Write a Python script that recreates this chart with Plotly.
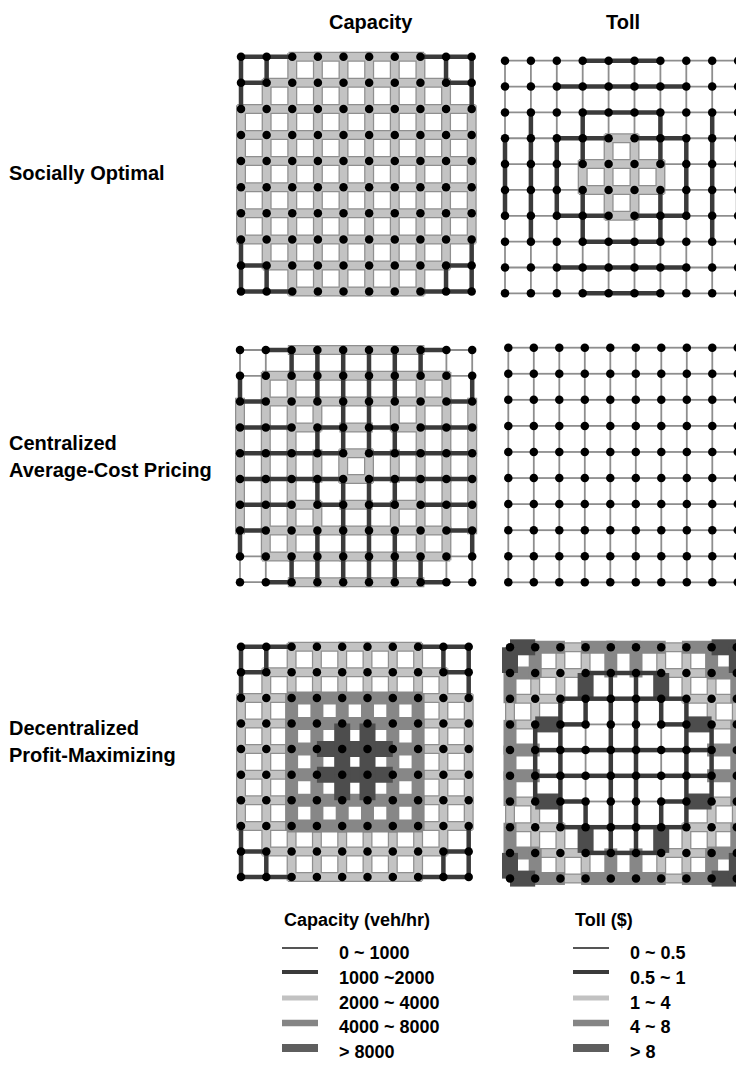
import plotly.graph_objects as go

W, H = 736, 1065

COLUMN_TITLES = ["Capacity", "Toll"]
ROW_TITLES = [["Socially Optimal"], ["Centralized", "Average-Cost Pricing"],
              ["Decentralized", "Profit-Maximizing"]]

CAP_LEGEND_TITLE = "Capacity (veh/hr)"
CAP_LEGEND_LABELS = ["0 ~ 1000", "1000 ~2000", "2000 ~ 4000", "4000 ~ 8000", "> 8000"]
TOLL_LEGEND_TITLE = "Toll ($)"
TOLL_LEGEND_LABELS = ["0 ~ 0.5", "0.5 ~ 1", "1 ~ 4", "4 ~ 8", "> 8"]

# Link classes (index into legend categories).
# *_H[row][k]: horizontal link between node k and k+1 on that row
# *_V[col][k]: vertical link between node k and k+1 on that column
SO_CAP_H = [
    [1, 1, 2, 2, 2, 2, 2, 1, 1],
    [1, 2, 2, 2, 2, 2, 2, 2, 1],
    [2, 2, 2, 2, 2, 2, 2, 2, 2],
    [2, 2, 2, 2, 2, 2, 2, 2, 2],
    [2, 2, 2, 2, 2, 2, 2, 2, 2],
    [2, 2, 2, 2, 2, 2, 2, 2, 2],
    [2, 2, 2, 2, 2, 2, 2, 2, 2],
    [2, 2, 2, 2, 2, 2, 2, 2, 2],
    [1, 2, 2, 2, 2, 2, 2, 2, 1],
    [1, 1, 2, 2, 2, 2, 2, 1, 1],
]
SO_CAP_V = [
    [1, 1, 2, 2, 2, 2, 2, 1, 1],
    [1, 2, 2, 2, 2, 2, 2, 2, 1],
    [2, 2, 2, 2, 2, 2, 2, 2, 2],
    [2, 2, 2, 2, 2, 2, 2, 2, 2],
    [2, 2, 2, 2, 2, 2, 2, 2, 2],
    [2, 2, 2, 2, 2, 2, 2, 2, 2],
    [2, 2, 2, 2, 2, 2, 2, 2, 2],
    [2, 2, 2, 2, 2, 2, 2, 2, 2],
    [1, 2, 2, 2, 2, 2, 2, 2, 1],
    [1, 1, 2, 2, 2, 2, 2, 1, 1],
]
SO_TOLL_H = [
    [0, 0, 0, 1, 1, 1, 0, 0, 0],
    [0, 0, 1, 1, 1, 1, 1, 0, 0],
    [0, 0, 0, 1, 1, 1, 0, 0, 0],
    [0, 0, 1, 1, 2, 1, 1, 0, 0],
    [0, 0, 0, 2, 2, 2, 0, 0, 0],
    [0, 0, 0, 2, 2, 2, 0, 0, 0],
    [0, 0, 1, 1, 2, 1, 1, 0, 0],
    [0, 0, 0, 1, 1, 1, 0, 0, 0],
    [0, 0, 1, 1, 1, 1, 1, 0, 0],
    [0, 0, 0, 1, 1, 1, 0, 0, 0],
]
SO_TOLL_V = [
    [0, 0, 0, 1, 1, 1, 0, 0, 0],
    [0, 0, 1, 1, 1, 1, 1, 0, 0],
    [0, 0, 0, 1, 1, 1, 0, 0, 0],
    [0, 0, 1, 1, 2, 1, 1, 0, 0],
    [0, 0, 0, 2, 2, 2, 0, 0, 0],
    [0, 0, 0, 2, 2, 2, 0, 0, 0],
    [0, 0, 1, 1, 2, 1, 1, 0, 0],
    [0, 0, 0, 1, 1, 1, 0, 0, 0],
    [0, 0, 1, 1, 1, 1, 1, 0, 0],
    [0, 0, 0, 1, 1, 1, 0, 0, 0],
]
CACP_CAP_H = [
    [0, 1, 2, 2, 2, 2, 2, 1, 0],
    [0, 2, 2, 2, 2, 2, 2, 2, 0],
    [1, 2, 2, 2, 2, 2, 2, 2, 1],
    [1, 1, 2, 1, 2, 1, 2, 1, 1],
    [1, 1, 1, 1, 2, 1, 1, 1, 1],
    [1, 1, 1, 1, 2, 1, 1, 1, 1],
    [1, 1, 2, 1, 2, 1, 2, 1, 1],
    [1, 2, 2, 2, 2, 2, 2, 2, 1],
    [0, 2, 2, 2, 2, 2, 2, 2, 0],
    [0, 1, 2, 2, 2, 2, 2, 1, 0],
]
CACP_CAP_V = [
    [0, 1, 2, 2, 2, 2, 2, 1, 0],
    [0, 2, 2, 2, 2, 2, 2, 2, 0],
    [1, 2, 2, 2, 2, 2, 2, 2, 1],
    [1, 1, 2, 1, 2, 1, 2, 1, 1],
    [1, 1, 1, 1, 2, 1, 1, 1, 1],
    [1, 1, 1, 1, 2, 1, 1, 1, 1],
    [1, 1, 2, 1, 2, 1, 2, 1, 1],
    [1, 2, 2, 2, 2, 2, 2, 2, 1],
    [0, 2, 2, 2, 2, 2, 2, 2, 0],
    [0, 1, 2, 2, 2, 2, 2, 1, 0],
]
CACP_TOLL_H = [[0, 0, 0, 0, 0, 0, 0, 0, 0] for _ in range(10)]
CACP_TOLL_V = [[0, 0, 0, 0, 0, 0, 0, 0, 0] for _ in range(10)]
DPM_CAP_H = [
    [1, 1, 2, 2, 2, 2, 2, 1, 1],
    [1, 2, 2, 2, 2, 2, 2, 2, 1],
    [2, 2, 3, 3, 3, 3, 3, 2, 2],
    [2, 2, 3, 3, 3, 3, 3, 2, 2],
    [2, 2, 3, 4, 4, 4, 3, 2, 2],
    [2, 2, 3, 4, 4, 4, 3, 2, 2],
    [2, 2, 3, 3, 3, 3, 3, 2, 2],
    [2, 2, 3, 3, 3, 3, 3, 2, 2],
    [1, 2, 2, 2, 2, 2, 2, 2, 1],
    [1, 1, 2, 2, 2, 2, 2, 1, 1],
]
DPM_CAP_V = [
    [1, 1, 2, 2, 2, 2, 2, 1, 1],
    [1, 2, 2, 2, 2, 2, 2, 2, 1],
    [2, 2, 3, 3, 3, 3, 3, 2, 2],
    [2, 2, 3, 3, 3, 3, 3, 2, 2],
    [2, 2, 3, 4, 4, 4, 3, 2, 2],
    [2, 2, 3, 4, 4, 4, 3, 2, 2],
    [2, 2, 3, 3, 3, 3, 3, 2, 2],
    [2, 2, 3, 3, 3, 3, 3, 2, 2],
    [1, 2, 2, 2, 2, 2, 2, 2, 1],
    [1, 1, 2, 2, 2, 2, 2, 1, 1],
]
DPM_TOLL_H = [
    [4, 3, 2, 3, 3, 3, 2, 3, 4],
    [3, 2, 2, 1, 1, 1, 2, 2, 3],
    [2, 2, 1, 1, 1, 1, 1, 2, 2],
    [2, 4, 1, 0, 0, 0, 1, 4, 2],
    [3, 1, 1, 1, 1, 1, 1, 1, 3],
    [3, 1, 1, 1, 1, 1, 1, 1, 3],
    [2, 4, 1, 0, 0, 0, 1, 4, 2],
    [2, 2, 1, 1, 1, 1, 1, 2, 2],
    [3, 2, 2, 1, 1, 1, 2, 2, 3],
    [4, 3, 2, 3, 3, 3, 2, 3, 4],
]
DPM_TOLL_V = [
    [4, 3, 2, 3, 3, 3, 2, 3, 4],
    [3, 2, 2, 1, 1, 1, 2, 2, 3],
    [2, 2, 1, 1, 1, 1, 1, 2, 2],
    [2, 4, 1, 0, 0, 0, 1, 4, 2],
    [3, 1, 1, 1, 1, 1, 1, 1, 3],
    [3, 1, 1, 1, 1, 1, 1, 1, 3],
    [2, 4, 1, 0, 0, 0, 1, 4, 2],
    [2, 2, 1, 1, 1, 1, 1, 2, 2],
    [3, 2, 2, 1, 1, 1, 2, 2, 3],
    [4, 3, 2, 3, 3, 3, 2, 3, 4],
]

# ---- styling ----
STYLE = {
    0: dict(color="#8e8e8e", width=1.8, ext=0),
    1: dict(color="#3b3b3b", width=4.5, ext=0),
    2: dict(color="#c3c3c3", width=7.5, outline="#8f8f8f", owidth=10, ext=3.75),
    3: dict(color="#878787", width=13, ext=4.5),
    4: dict(color="#4d4d4d", width=16, ext=0),
}
DRAW_ORDER = [2, 3, 4, 1, 0]
LEGEND_STYLE = [("#555555", 2), ("#3a3a3a", 4), ("#c2c2c2", 5), ("#858585", 6.5), ("#5e5e5e", 8)]

# panel geometry: node 0 pixel position and spacing (x0, sx, y0, sy)
PANELS = [
    (SO_CAP_H, SO_CAP_V, 241.0, 25.63, 56.7, 26.1),
    (SO_TOLL_H, SO_TOLL_V, 505.0, 25.9, 60.7, 25.85),
    (CACP_CAP_H, CACP_CAP_V, 240.0, 25.8, 350.0, 25.8),
    (CACP_TOLL_H, CACP_TOLL_V, 508.3, 25.5, 347.7, 26.07),
    (DPM_CAP_H, DPM_CAP_V, 241.0, 25.3, 646.7, 25.6),
    (DPM_TOLL_H, DPM_TOLL_V, 510.0, 25.2, 647.3, 25.7),
]

fig = go.Figure()
layout = {}
PAD = 0.6
for i, (hm, vm, x0, sx, y0, sy) in enumerate(PANELS):
    n = i + 1
    xa = "x" if n == 1 else f"x{n}"
    ya = "y" if n == 1 else f"y{n}"
    nnodes = len(hm)
    left = x0 - PAD * sx
    right = min(x0 + (nnodes - 1 + PAD) * sx, W)
    top = y0 - PAD * sy
    bottom = y0 + (nnodes - 1 + PAD) * sy
    layout["xaxis" + ("" if n == 1 else str(n))] = dict(
        domain=[left / W, right / W], range=[-PAD, (right - x0) / sx],
        visible=False, fixedrange=True, anchor=ya)
    layout["yaxis" + ("" if n == 1 else str(n))] = dict(
        domain=[1 - bottom / H, 1 - top / H], range=[(bottom - y0) / sy, -PAD],
        visible=False, fixedrange=True, anchor=xa)

    for cls in DRAW_ORDER:
        st = STYLE[cls]
        ex, ey = st["ext"] / sx, st["ext"] / sy
        xs, ys = [], []
        for r, row in enumerate(hm):
            for k, c in enumerate(row):
                if c == cls:
                    xs += [k - ex, k + 1 + ex, None]
                    ys += [r, r, None]
        for col, colv in enumerate(vm):
            for k, c in enumerate(colv):
                if c == cls:
                    xs += [col, col, None]
                    ys += [k - ey, k + 1 + ey, None]
        if not xs:
            continue
        if "outline" in st:
            fig.add_trace(go.Scatter(x=xs, y=ys, mode="lines",
                                     line=dict(color=st["outline"], width=st["owidth"]),
                                     xaxis=xa, yaxis=ya, hoverinfo="skip", showlegend=False))
        fig.add_trace(go.Scatter(x=xs, y=ys, mode="lines",
                                 line=dict(color=st["color"], width=st["width"]),
                                 xaxis=xa, yaxis=ya, hoverinfo="skip", showlegend=False))
    nx = [c for r in range(nnodes) for c in range(nnodes)]
    ny = [r for r in range(nnodes) for c in range(nnodes)]
    fig.add_trace(go.Scatter(x=nx, y=ny, mode="markers",
                             marker=dict(color="black", size=8.5, line=dict(width=0)),
                             xaxis=xa, yaxis=ya, hoverinfo="skip", showlegend=False))

FONT = "Liberation Sans, Arial, Helvetica, sans-serif"
ann = []


def text(x, y, s, size, anchor="left"):
    ann.append(dict(x=x / W, y=1 - y / H, xref="paper", yref="paper", text="<b>" + s + "</b>",
                    showarrow=False, xanchor=anchor, yanchor="middle",
                    font=dict(family=FONT, size=size, color="black")))


# column titles
text(371, 22, COLUMN_TITLES[0], 20, "center")
text(623, 22, COLUMN_TITLES[1], 20, "center")
# row titles
row_y = [[173], [443, 470], [728, 755]]
for lines, ys in zip(ROW_TITLES, row_y):
    for s, yy in zip(lines, ys):
        text(7, yy, s, 20)

# legends
shapes = []
text(282, 920, CAP_LEGEND_TITLE, 18)
text(573, 920, TOLL_LEGEND_TITLE, 18)
line_y = [948, 972, 998, 1023, 1048]
lab_y = [953, 978, 1003, 1027, 1052]
for j in range(5):
    col, wd = LEGEND_STYLE[j]
    for xs0, xs1 in [(282, 318), (573, 609)]:
        shapes.append(dict(type="line", xref="paper", yref="paper",
                           x0=xs0 / W, x1=xs1 / W, y0=1 - line_y[j] / H, y1=1 - line_y[j] / H,
                           line=dict(color=col, width=wd)))
    text(337, lab_y[j], CAP_LEGEND_LABELS[j], 18)
    text(628, lab_y[j], TOLL_LEGEND_LABELS[j], 18)

fig.update_layout(**layout)
fig.update_layout(width=W, height=H, margin=dict(l=0, r=0, t=0, b=0),
                  paper_bgcolor="white", plot_bgcolor="rgba(0,0,0,0)",
                  annotations=ann, shapes=shapes, showlegend=False)
fig.write_html("out.html", config={"displayModeBar": False},
               post_script="document.body.style.margin='0';document.body.style.overflow='hidden';")
